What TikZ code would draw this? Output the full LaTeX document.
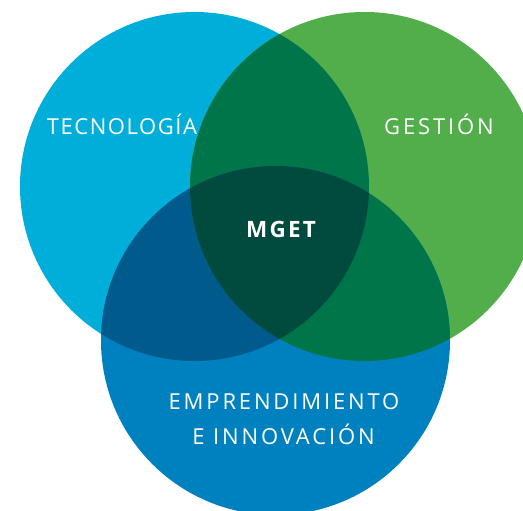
\documentclass[tikz,border=0pt]{standalone}
\usepackage{fontspec}
\setmainfont{Open Sans}
\newfontfamily\lblTec[LetterSpace=7]{Open Sans}
\newfontfamily\lblGes[LetterSpace=13]{Open Sans}
\newfontfamily\lblEmp[LetterSpace=13]{Open Sans}
\newfontfamily\lblM[LetterSpace=10]{Open Sans Bold}
\definecolor{cTec}{HTML}{00AEDA}
\definecolor{cGes}{HTML}{52AE4B}
\definecolor{cEmp}{HTML}{0081BF}
\definecolor{cTG}{HTML}{00754A}
\definecolor{cTE}{HTML}{005A8C}
\definecolor{cGE}{HTML}{00754A}
\definecolor{cAll}{HTML}{004B3E}
\tikzset{
  lbl/.style={text=white, anchor=base, inner sep=0pt},
  tecfont/.style={lbl, font=\fontsize{22}{24}\lblTec},
  gesfont/.style={lbl, font=\fontsize{22}{24}\lblGes},
  empfont/.style={lbl, font=\fontsize{22}{24}\lblEmp},
  core/.style={lbl, font=\fontsize{22.5}{24}\lblM}
}
\begin{document}
\begin{tikzpicture}[x=1pt,y=-1pt]
\useasboundingbox (0,0) rectangle (523,511);
\clip (0,0) rectangle (523,511);
\coordinate (T) at (194.5,186.5);
\coordinate (G) at (364.5,186.5);
\coordinate (E) at (275.5,340.5);
\def\R{174.5}
\fill[cTec] (T) circle (\R);
\fill[cGes] (G) circle (\R);
\fill[cEmp] (E) circle (\R);
\begin{scope}
  \clip (T) circle (\R);
  \fill[cTG] (G) circle (\R);
  \fill[cTE] (E) circle (\R);
\end{scope}
\begin{scope}
  \clip (G) circle (\R);
  \fill[cGE] (E) circle (\R);
  \clip (E) circle (\R);
  \fill[cAll] (T) circle (\R);
\end{scope}
\node[tecfont] (tec) at (122,135) {TECNOLOGÍA};
\node[gesfont] (ges) at (439,135) {GESTIÓN};
\node[core] (mget) at (281,237) {MGET};
\node[empfont] (emp1) at (284,409) {EMPRENDIMIENTO};
\node[empfont] (emp2) at (283.5,444) {E INNOVACIÓN};
\end{tikzpicture}
\end{document}
